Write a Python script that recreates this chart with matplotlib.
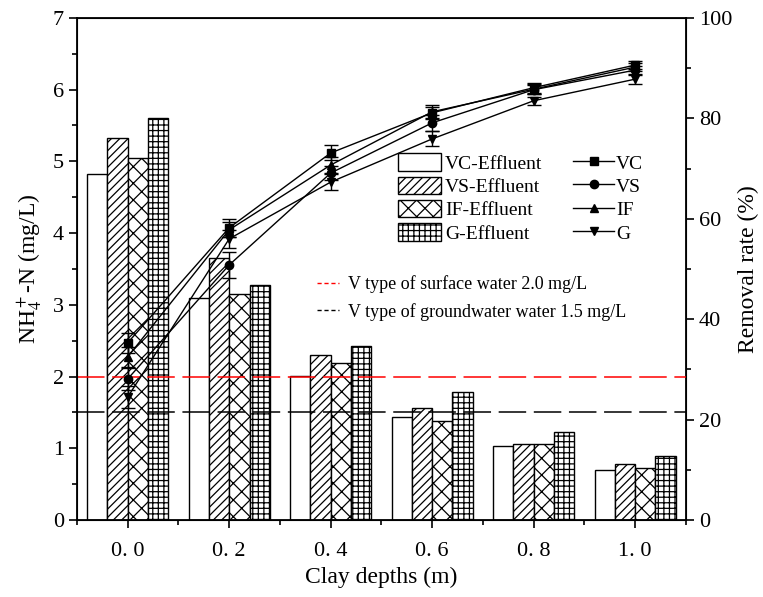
import numpy as np
import matplotlib
matplotlib.use("Agg")
import matplotlib.pyplot as plt
from matplotlib.patches import Patch
from matplotlib.lines import Line2D
from matplotlib.ticker import MultipleLocator

plt.rcParams['font.family'] = ['Liberation Serif', 'DejaVu Serif']
plt.rcParams['mathtext.fontset'] = 'stix'
plt.rcParams['hatch.linewidth'] = 0.9

# data
depths = ['0. 0', '0. 2', '0. 4', '0. 6', '0. 8', '1. 0']
vc_eff = [4.82, 3.09, 2.01, 1.44, 1.03, 0.69]
vs_eff = [5.33, 3.65, 2.30, 1.56, 1.06, 0.78]
if_eff = [5.04, 3.15, 2.19, 1.38, 1.06, 0.72]
g_eff = [5.61, 3.28, 2.43, 1.79, 1.23, 0.89]

vc_rem = [35.3, 58.2, 73.1, 81.1, 86.1, 90.6]
vs_rem = [28.1, 50.8, 69.1, 79.1, 85.7, 89.6]
if_rem = [32.5, 57.8, 70.7, 81.3, 85.8, 90.2]
g_rem = [24.5, 56.0, 67.3, 75.9, 83.5, 87.8]

vc_err = [2.0, 1.8, 1.5, 1.2, 1.0, 0.8]
vs_err = [2.2, 2.6, 1.4, 1.6, 0.9, 0.9]
if_err = [2.0, 1.5, 1.5, 1.3, 1.0, 0.8]
g_err = [2.2, 1.8, 1.6, 1.5, 0.8, 1.0]

surface_std = 2.0
ground_std = 1.5

x = np.arange(len(depths))
w = 0.2

fig = plt.figure(figsize=(7.63, 5.97), dpi=100)
ax = fig.add_axes([0.1009, 0.129, 0.798, 0.841])

bar_sets = [(vc_eff, '', 'VC-Effluent'), (vs_eff, '////', 'VS-Effluent'),
            (if_eff, 'xx', 'IF-Effluent'), (g_eff, '+++', 'G-Effluent')]
for k, (vals, h, lab) in enumerate(bar_sets):
    ax.bar(x + (k - 1.5) * w, vals, w, color='white', edgecolor='black',
           hatch=h, linewidth=1.0, zorder=2)

ax.axhline(surface_std, color='#ff0000', lw=1.1, dashes=(18, 5), zorder=3)
ax.axhline(ground_std, color='black', lw=1.1, dashes=(18, 5), zorder=3)

ax.set_xlim(-0.5, 5.5)
ax.set_ylim(0, 7)
ax.set_xticks(x)
ax.set_xticklabels(depths, fontsize=17)
ax.xaxis.set_minor_locator(MultipleLocator(0.5))
ax.yaxis.set_major_locator(MultipleLocator(1))
ax.yaxis.set_minor_locator(MultipleLocator(0.5))
ax.tick_params(which='major', direction='out', length=6, width=1.2, labelsize=16, top=False)
ax.tick_params(which='minor', direction='out', length=3.5, width=1.2, top=False)
ax.tick_params(axis='x', which='major', pad=10)
for s in ax.spines.values():
    s.set_linewidth(1.3)
ax.set_xlabel('Clay depths (m)', fontsize=17)
ax.set_ylabel('NH$_4^+$-N (mg/L)', fontsize=17, labelpad=6)

ax2 = ax.twinx()
ax2.set_ylim(0, 100)
ax2.yaxis.set_major_locator(MultipleLocator(20))
ax2.yaxis.set_minor_locator(MultipleLocator(10))
ax2.tick_params(which='major', direction='out', length=6, width=1.2, labelsize=16)
ax2.tick_params(which='minor', direction='out', length=3.5, width=1.2)
ax2.set_ylabel('Removal rate (%)', fontsize=17, labelpad=4)

line_sets = [(vc_rem, vc_err, 's', 'VC'), (vs_rem, vs_err, 'o', 'VS'),
             (if_rem, if_err, '^', 'IF'), (g_rem, g_err, 'v', 'G')]
for vals, err, m, lab in line_sets:
    ax2.errorbar(x, vals, yerr=err, color='black', lw=1.0, marker=m, ms=6,
                 capsize=5, elinewidth=1.0, capthick=1.0)

bar_handles = [Patch(facecolor='white', edgecolor='black', hatch=h, lw=1.0)
               for _, h, _ in bar_sets]
leg1 = ax2.legend(bar_handles, [b[2] for b in bar_sets], loc='upper left',
                  bbox_to_anchor=(0.528, 0.730), frameon=False, fontsize=14,
                  handlelength=2.2, handleheight=1.0, labelspacing=0.2,
                  handletextpad=0.2, borderpad=0, borderaxespad=0)
ax2.add_artist(leg1)

line_handles = [Line2D([], [], color='black', lw=1.0, marker=m, ms=6)
                for _, _, m, _ in line_sets]
leg2 = ax2.legend(line_handles, [l[3] for l in line_sets], loc='upper left',
                  bbox_to_anchor=(0.815, 0.730), frameon=False, fontsize=14,
                  handlelength=2.1, handleheight=1.0, labelspacing=0.2,
                  handletextpad=0.1, borderpad=0, borderaxespad=0)
ax2.add_artist(leg2)

ref_handles = [Line2D([], [], color='#ff0000', lw=1.0, dashes=(3, 2)),
               Line2D([], [], color='black', lw=1.0, dashes=(3, 2))]
ax2.legend(ref_handles, ['V type of surface water 2.0 mg/L',
                         'V type of groundwater water 1.5 mg/L'],
           loc='upper left', bbox_to_anchor=(0.395, 0.488), frameon=False,
           fontsize=13, handlelength=1.2, labelspacing=0.55,
           handletextpad=0.5, borderpad=0, borderaxespad=0)

fig.savefig('out.png', dpi=100)
